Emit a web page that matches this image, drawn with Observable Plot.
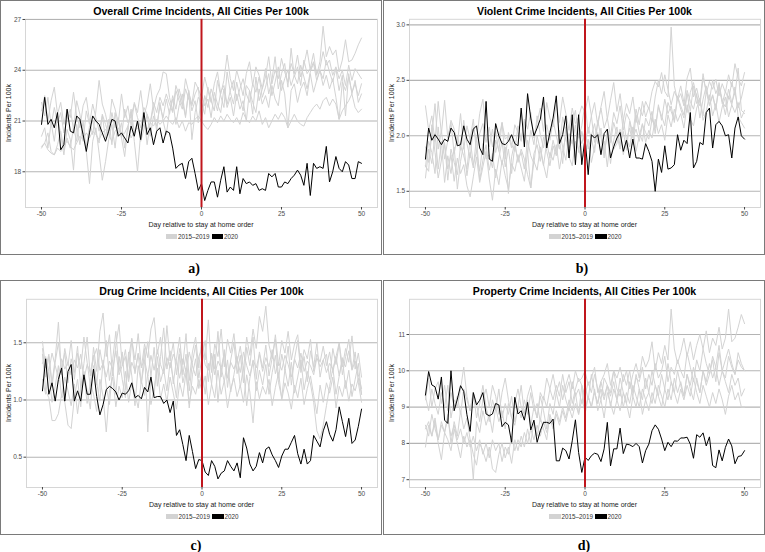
<!DOCTYPE html>
<html>
<head>
<meta charset="utf-8">
<script src="https://cdn.jsdelivr.net/npm/d3@7"></script>
<script src="https://cdn.jsdelivr.net/npm/@observablehq/plot@0.6"></script>
<style>
  html, body { margin: 0; padding: 0; background: #fff; }
  body { width: 765px; height: 552px; position: relative; overflow: hidden; font-family: "Liberation Sans", Arial, sans-serif; }
  .panel { position: absolute; width: 382px; height: 255px; }
  .border { position: absolute; left: 0; top: 0; width: 382px; height: 255px; border: 1px solid #7a7a7a; box-sizing: border-box; pointer-events: none; }
  .panel svg { position: absolute; left: 0; top: 0; }
  .title { position: absolute; top: 4.5px; text-align: center; font-weight: bold; font-size: 10.6px; line-height: 12px; color: #000; white-space: nowrap; }
  .xlab { position: absolute; top: 221px; text-align: center; font-size: 7px; line-height: 8px; color: #1a1a1a; white-space: nowrap; }
  .ylab { position: absolute; left: -85px; top: 109px; width: 188px; height: 8px; text-align: center; font-size: 7px; line-height: 8px; color: #1a1a1a; transform: rotate(-90deg); white-space: nowrap; }
  .sw { position: absolute; top: 234.2px; height: 5px; }
  .lt { position: absolute; top: 233px; font-size: 6.3px; line-height: 7.5px; color: #333; white-space: nowrap; }
  .tag { position: absolute; width: 40px; text-align: center; font-family: "Liberation Serif", "DejaVu Serif", serif; font-weight: bold; font-size: 14px; line-height: 16px; color: #000; }
</style>
</head>
<body>
<script>
// ---------- shared axis values ----------
const days = d3.range(-50, 51);          // day relative to stay-at-home order
const xTicks = [-50, -25, 0, 25, 50];
const legendLabels = ["2015\u20132019", "2020"];
const panelTitles = [
  "Overall Crime Incidents, All Cities Per 100k",
  "Violent Crime Incidents, All Cities Per 100k",
  "Drug Crime Incidents, All Cities Per 100k",
  "Property Crime Incidents, All Cities Per 100k"
];
const panelTags = ["a)", "b)", "c)", "d)"];
const xTitle = "Day relative to stay at home order";
const yTitle = "Incidents Per 100k";

// ---------- a) overall ----------
const overallTicks = [18, 21, 24, 27];
const overall2020 = [20.8,22.4,20.8,21.1,20.6,21.5,19.3,19.6,21.7,20.4, 20.3,21.3,21.1,20.2,19.2,20.3,21.3,21.0,20.8,20.3, 19.8,20.4,21.1,21.0,20.1,20.3,20.0,19.7,20.7,20.1, 21.0,19.9,21.5,20.2,20.6,19.6,20.4,20.6,19.7,20.4, 20.3,19.4,18.2,18.4,18.5,17.6,18.6,18.8,17.9,16.9, 17.3,16.3,16.9,17.4,17.4,16.5,17.5,18.3,16.8,17.1, 16.9,18.3,16.7,17.6,17.3,17.4,17.2,17.3,16.9,17.0, 16.9,17.9,17.7,17.9,17.1,17.1,17.4,17.3,17.6,17.8, 18.1,17.8,17.2,18.5,16.6,18.5,18.2,18.3,18.2,19.5, 17.4,18.0,18.9,18.2,18.0,18.6,18.4,17.6,17.6,18.6,18.5];
const overallPast1 = [20.1,20.6,19.4,20.9,19.8,21.3,20.2,19.0,20.5,19.9, 18.1,20.8,19.6,21.0,19.2,17.3,19.8,20.6,19.1,17.5, 18.6,19.9,20.8,19.4,21.2,20.0,18.9,20.7,21.5,19.8, 18.0,20.3,21.4,19.6,20.9,21.8,20.4,22.1,21.0,20.2, 21.6,22.3,20.8,21.9,22.6,21.2,22.8,19.9,21.5,22.4, 22.1,21.4,23.0,22.2,21.6,23.4,22.5,21.8,23.9,22.7, 22.0,23.3,22.4,21.6,23.1,22.8,21.4,23.6,22.2,22.9, 24.1,22.6,23.4,24.8,22.9,23.8,24.4,23.0,25.3,23.6, 24.2,23.1,24.6,23.8,24.1,25.0,23.7,24.5,26.6,24.8, 25.4,24.9,25.2,23.9,24.6,25.8,24.5,24.6,25.0,25.5,25.9];
const overallPast2 = [21.6,22.5,21.0,22.2,23.0,21.4,22.1,20.8,21.7,21.2, 22.7,21.3,20.6,21.9,22.4,21.0,20.2,21.6,23.4,22.0, 21.4,20.5,22.3,21.7,20.9,22.6,21.2,21.9,20.7,22.1, 21.5,22.8,21.3,22.0,23.2,21.7,22.5,22.9,23.9,23.8, 22.4,21.6,23.1,22.5,21.9,23.5,22.7,22.0,23.3,22.9, 22.4,23.6,22.8,22.1,23.2,23.9,22.6,23.4,24.9,23.5, 22.8,24.0,23.3,22.5,23.8,24.5,23.1,24.2,23.7,22.9, 23.6,24.8,23.2,24.0,23.5,24.7,23.9,23.3,24.4,23.8, 24.9,23.6,24.3,25.2,24.0,24.5,23.8,24.1,25.1,24.3, 24.6,23.7,24.2,23.5,24.0,23.1,24.3,23.4,24.1,23.8,23.5];
const overallPast3 = [19.5,19.7,20.3,19.2,19.0,19.6,20.4,19.3,20.0,19.4, 20.6,19.8,21.2,20.1,19.5,20.7,21.0,20.3,19.7,21.4, 20.8,20.2,21.5,20.6,21.1,20.0,21.7,20.9,21.3,22.0, 21.2,20.6,21.8,21.4,20.9,22.1,21.5,22.4,21.9,22.6, 22.0,21.5,22.8,22.2,21.7,22.9,22.3,21.9,22.6,23.0, 21.0,22.5,21.8,22.9,22.3,21.6,22.7,23.1,22.0,22.8, 23.4,22.2,22.9,23.5,22.6,22.1,23.2,22.7,23.6,22.4, 23.0,23.8,22.5,23.3,24.2,22.8,23.5,24.0,23.1,23.7, 23.2,24.3,23.6,22.9,23.9,24.4,23.4,24.0,23.5,24.6, 23.9,23.3,24.1,22.8,23.7,21.3,23.8,22.6,23.4,22.1,22.6];
const overallPast4 = [19.4,19.7,19.3,19.1,19.0,19.4,19.2,19.6,19.8,19.5, 19.3,19.7,20.1,19.9,20.3,20.0,20.4,20.2,19.9,20.3, 20.5,20.2,19.8,20.4,20.6,20.1,20.3,20.7,20.0,20.4, 20.6,20.3,20.8,20.5,20.9,20.7,21.1,20.8,21.0,21.3, 21.0,20.8,21.2,20.6,21.0,20.4,20.9,20.8,21.1,21.3, 21.0,20.7,20.5,20.8,21.2,20.9,21.3,21.0,21.4,21.1, 20.9,21.2,20.8,21.5,21.1,20.9,21.3,21.0,21.6,20.8, 21.2,20.6,21.0,21.4,21.1,21.5,21.2,20.6,21.0,21.4, 21.0,20.8,20.7,21.2,21.5,21.8,22.0,21.7,22.2,22.4, 21.9,22.3,22.0,21.1,21.6,21.9,22.2,22.6,21.8,21.5,21.7];
const overallPast5 = [22.1,21.3,22.4,20.7,21.8,20.9,21.5,20.3,21.1,21.7, 20.5,22.2,21.4,19.8,21.6,20.8,22.0,21.2,20.4,21.3, 20.0,21.1,19.6,21.5,20.2,20.9,19.4,20.6,21.7,20.3, 21.0,19.8,20.5,21.4,20.1,21.3,20.7,21.9,21.2,22.3, 21.4,22.5,21.7,22.9,22.1,21.3,22.8,21.6,22.2,20.9, 22.6,21.9,22.3,21.2,22.7,22.0,21.5,22.9,21.8,22.4, 21.3,22.6,21.7,22.2,21.0,22.8,22.1,21.5,22.9,22.0, 22.5,21.8,23.1,22.3,21.9,23.4,22.6,20.6,22.8,23.2, 22.1,22.9,23.3,22.5,23.8,22.7,23.4,24.0,23.1,23.7, 22.9,23.5,22.4,21.1,23.3,22.8,23.6,22.7,23.2,22.5,23.2];

// ---------- b) violent ----------
const violentTicks = [1.5, 2.0, 2.5, 3.0];
const violent2020 = [1.79,2.07,1.96,2.01,1.97,1.92,1.97,1.95,2.07,2.03, 1.91,1.92,2.09,1.97,1.92,2.06,2.09,1.89,1.83,2.31, 1.79,1.77,2.11,2.00,1.93,1.92,1.95,2.01,1.93,1.91, 2.25,1.90,2.38,2.16,2.00,2.07,2.15,2.35,1.89,2.03, 2.16,2.36,1.93,2.01,2.18,1.80,2.19,1.74,2.19,1.74, 1.98,1.65,2.01,1.98,2.01,1.83,2.02,2.06,1.80,1.90, 1.98,2.03,1.86,1.96,1.80,1.97,1.80,1.80,1.79,1.93, 1.86,1.77,1.50,1.79,1.67,1.91,1.70,1.71,1.74,2.01, 1.87,1.96,1.93,2.21,1.71,1.77,1.94,1.92,2.21,2.25, 1.89,2.10,2.13,2.09,2.00,2.01,1.80,2.07,2.17,2.00,1.97];
const violentPast1 = [2.27,2.05,2.18,1.95,2.31,2.02,2.32,1.98,2.14,2.06, 1.92,2.20,1.88,2.09,1.97,2.15,1.85,2.02,2.11,1.94, 2.08,1.90,2.04,1.86,2.12,1.97,2.00,1.89,2.10,2.03, 1.95,2.15,2.06,2.21,1.98,2.12,2.25,2.04,2.30,2.16, 2.08,2.28,2.12,2.35,2.20,2.05,2.25,2.11,2.17,2.27, 2.21,2.36,2.18,2.30,2.09,2.26,2.40,2.15,2.32,2.48, 2.22,2.38,2.14,2.29,2.20,2.35,2.12,2.26,2.18,2.31, 2.24,2.40,2.49,2.44,2.57,2.40,2.35,2.98,2.45,2.32, 2.38,2.27,2.52,2.61,2.35,2.43,2.30,2.56,2.38,2.49, 2.42,2.51,2.36,2.47,2.39,2.55,2.44,2.65,2.52,2.45,2.57];
const violentPast2 = [1.62,1.88,1.75,2.02,1.70,1.95,1.58,1.82,1.66,1.90, 1.52,1.77,1.93,1.64,1.85,1.71,1.99,1.60,1.78,1.92, 1.69,1.84,1.62,1.80,1.95,1.72,1.88,1.66,1.91,1.78, 1.85,1.70,1.96,1.82,1.75,2.00,1.87,1.73,1.94,1.80, 1.96,1.84,2.05,1.90,1.78,2.02,1.93,2.10,1.85,2.04, 1.92,2.08,1.97,1.85,2.14,1.99,1.80,2.06,1.94,2.12, 2.01,1.88,2.15,1.96,2.07,1.92,2.19,2.03,1.95,2.16, 2.09,2.22,2.02,2.28,2.14,2.33,2.20,2.27,2.12,2.35, 2.24,2.16,2.38,2.22,2.45,2.29,2.34,2.18,2.40,2.27, 2.36,2.23,2.48,2.31,2.26,2.42,2.30,2.39,2.25,2.34,2.47];
const violentPast3 = [1.73,1.68,2.10,1.85,1.62,1.78,1.92,1.70,1.83,1.59, 1.80,1.66,1.74,1.55,1.45,1.63,1.81,1.58,1.72,1.86, 1.61,1.42,1.70,1.56,1.78,1.64,1.52,1.75,1.68,1.83, 1.71,1.59,1.86,1.53,1.77,1.69,1.90,1.74,1.62,1.85, 1.78,1.92,1.70,1.87,1.99,1.81,1.73,1.95,1.88,1.79, 1.85,1.97,1.76,1.90,2.03,1.84,1.95,1.72,1.99,1.88, 1.93,2.06,1.83,1.97,1.90,2.08,1.86,2.00,2.11,1.94, 2.05,1.98,2.15,2.02,2.10,1.96,2.19,2.08,2.24,2.13, 2.20,2.07,2.28,2.15,2.09,2.25,2.33,2.14,2.22,2.37, 2.18,2.29,2.12,2.26,2.35,2.17,2.28,2.21,2.30,2.16,2.23];
const violentPast4 = [1.90,1.76,2.01,2.29,1.88,2.05,1.79,1.96,2.12,1.84, 2.00,1.87,2.14,1.93,1.80,2.08,1.95,2.20,2.33,2.02, 1.90,2.06,1.85,1.98,2.12,1.79,2.03,1.92,1.86,2.09, 1.97,2.13,1.84,2.05,1.92,2.18,2.01,1.89,2.10,1.96, 2.14,2.00,1.88,2.17,2.04,1.93,2.11,2.23,1.98,2.09, 2.30,2.02,2.18,1.94,2.12,2.25,2.07,2.16,1.99,2.21, 2.11,2.27,2.05,2.20,2.14,2.02,2.24,2.10,2.31,2.17, 2.26,2.13,2.35,2.50,2.38,2.55,2.42,2.28,2.40,2.33, 2.45,2.30,2.21,2.39,2.48,2.35,2.27,2.52,2.41,2.32, 2.50,2.38,2.46,2.29,2.40,2.33,2.48,2.37,2.61,2.23,2.20];
const violentPast5 = [1.72,1.95,1.85,1.66,2.08,1.78,1.94,1.60,1.88,1.76, 1.65,1.91,1.82,1.70,1.97,1.74,1.86,1.68,1.93,1.79, 1.83,1.71,1.96,1.87,1.74,1.90,1.48,1.81,1.95,1.76, 1.88,1.79,1.65,1.53,1.84,1.92,1.77,1.99,1.86,1.73, 1.91,1.82,1.97,1.75,2.08,1.89,1.96,1.80,2.02,1.93, 2.05,1.88,2.00,2.11,1.93,2.07,1.84,2.02,1.75,1.96, 2.08,1.91,2.04,1.87,2.13,1.98,2.06,1.95,2.10,2.03, 1.97,2.15,2.07,2.26,2.18,2.09,2.30,2.22,2.14,2.36, 2.27,2.19,2.41,2.31,2.24,2.38,2.16,2.33,2.45,2.28, 2.37,2.25,2.43,2.32,2.19,2.36,2.28,2.44,2.17,2.12,2.07];

// ---------- c) drug ----------
const drugTicks = [0.5, 1.0, 1.5];
const drug2020 = [1.08,1.36,1.05,1.15,0.99,1.18,1.28,0.99,1.25,1.31, 0.99,1.08,0.99,1.22,1.05,1.05,1.27,1.03,0.87,0.96, 1.09,1.12,1.10,1.07,1.00,1.06,1.05,1.08,1.15,1.02, 1.04,1.01,1.11,1.07,1.20,1.02,1.03,1.03,0.97,1.00, 0.89,0.99,0.69,0.74,0.61,0.47,0.69,0.55,0.40,0.48, 0.47,0.37,0.34,0.47,0.42,0.31,0.36,0.38,0.47,0.42, 0.38,0.45,0.32,0.67,0.58,0.44,0.38,0.42,0.54,0.45, 0.57,0.59,0.52,0.47,0.41,0.51,0.57,0.57,0.63,0.69, 0.53,0.44,0.57,0.44,0.47,0.69,0.64,0.59,0.73,0.81, 0.70,0.64,0.74,0.94,0.81,0.68,0.84,0.62,0.65,0.77,0.92];
const drugPast1 = [1.51,1.28,1.40,1.15,1.36,1.68,1.22,1.45,1.30,1.52, 1.18,1.41,1.27,1.55,1.33,1.12,1.46,1.25,1.60,1.76, 1.38,1.57,1.21,1.48,1.66,1.30,1.44,1.19,1.53,1.35, 1.58,1.28,1.49,1.37,1.62,1.72,1.40,1.55,1.26,1.65, 1.34,1.50,1.22,1.45,1.31,1.58,1.17,1.42,1.55,1.28, 1.56,1.35,1.70,1.24,1.49,1.38,1.62,1.29,1.53,1.41, 1.58,1.33,1.47,1.26,1.55,1.39,1.62,1.45,1.73,1.60, 1.82,1.48,1.36,1.57,1.30,1.52,1.41,1.60,1.35,1.49, 1.57,1.28,1.44,1.36,1.53,1.25,1.40,1.33,1.47,1.30, 1.42,1.24,1.38,1.50,1.29,1.45,1.33,1.56,1.27,1.41,1.20];
const drugPast2 = [1.40,1.08,1.02,0.82,0.82,0.88,1.05,0.98,0.78,0.75, 1.02,1.18,0.94,1.25,1.08,0.92,1.30,1.15,0.99,1.35, 1.12,0.96,1.28,1.05,1.38,1.18,1.02,1.42,1.21,0.95, 1.30,1.14,1.45,0.72,1.20,1.04,1.38,1.16,1.27,1.08, 1.33,1.19,1.02,1.40,1.15,1.28,0.93,1.22,1.36,1.10, 1.25,1.05,1.32,1.14,1.40,0.98,1.28,1.16,1.35,1.07, 1.22,1.38,1.11,1.29,0.95,1.19,1.34,1.08,1.26,1.13, 1.31,1.05,1.24,1.39,1.15,1.02,1.27,1.12,1.33,1.06, 1.20,1.35,1.09,1.25,1.14,0.98,0.73,0.66,0.78,0.95, 1.12,1.28,1.05,1.21,1.37,1.10,1.26,1.03,1.18,1.32,1.05];
const drugPast3 = [1.32,1.38,1.25,1.41,1.30,1.19,1.36,1.27,1.33,1.22, 1.35,1.28,1.40,1.18,1.31,1.24,1.37,1.45,1.26,1.32, 1.20,1.34,1.27,1.43,1.22,1.30,1.38,1.16,1.33,1.25, 1.41,1.29,1.35,1.21,1.39,1.26,1.44,1.31,1.23,1.37, 1.28,1.40,1.33,1.19,1.36,1.25,1.42,1.30,1.21,1.38, 1.45,1.31,1.26,1.39,1.22,1.34,1.28,1.41,1.19,1.33, 1.27,1.36,1.24,1.42,1.30,1.21,1.35,1.28,1.40,1.25, 1.37,1.29,1.44,1.23,1.33,1.26,1.39,1.31,1.20,1.36, 1.28,1.41,1.25,1.34,1.30,1.22,1.37,1.29,1.35,1.24, 1.32,1.27,1.38,1.21,1.35,1.29,1.43,1.26,1.34,1.22,1.10];
const drugPast4 = [1.18,1.05,1.25,0.98,1.12,1.30,1.02,1.20,1.08,0.95, 1.14,0.88,1.10,1.22,0.97,1.15,1.05,0.90,1.18,1.03, 0.72,1.08,1.20,0.94,1.12,1.02,1.25,0.98,1.15,1.06, 0.93,1.17,1.04,1.22,0.96,1.10,1.28,1.01,1.14,0.98, 1.20,1.06,0.92,1.15,1.03,1.24,0.97,1.12,1.05,1.18, 1.08,1.21,0.96,1.14,1.02,1.26,1.05,1.17,0.93,1.10, 1.19,1.03,1.13,0.98,1.22,1.07,0.80,1.16,1.01,1.12, 1.05,1.18,0.95,1.11,1.24,1.00,1.15,1.06,0.92,1.13, 1.02,1.19,0.96,1.10,1.21,1.04,0.88,1.13,0.98,1.15, 1.06,1.20,0.93,1.12,1.03,1.17,0.99,1.14,1.08,1.19,1.05];
const drugPast5 = [1.45,1.20,1.38,1.12,1.33,1.50,1.26,1.41,1.15,1.36, 1.24,1.47,1.10,1.32,1.55,1.21,1.39,1.13,1.44,1.28, 1.52,1.17,1.35,1.60,1.25,1.42,1.09,1.37,1.54,1.23, 1.40,1.15,1.33,1.51,1.20,1.46,1.12,1.38,1.63,1.27, 1.43,1.14,1.36,1.55,1.22,1.40,1.08,1.33,1.48,1.19, 1.38,1.52,1.16,1.41,1.27,1.60,1.20,1.44,1.11,1.35, 1.50,1.23,1.39,1.15,1.46,1.30,1.55,1.18,1.42,1.28, 1.48,1.21,1.37,1.53,1.19,1.40,1.26,1.47,1.13,1.36, 1.52,1.24,1.38,1.16,1.43,1.29,1.50,1.20,1.35,1.40, 1.18,1.45,1.31,1.49,1.22,1.38,1.53,1.27,1.42,1.15,0.98];

// ---------- d) property ----------
const propertyTicks = [7, 8, 9, 10, 11];
const property2020 = [9.33,9.98,9.61,9.56,9.22,9.83,8.64,8.55,10.0,8.90, 9.22,9.59,9.43,8.79,8.33,9.40,9.06,9.19,9.40,8.81, 8.76,8.81,9.10,9.06,8.46,8.58,8.51,8.03,9.27,8.81, 8.90,8.64,9.13,8.37,8.64,8.03,8.35,8.58,8.58,8.55, 8.67,7.52,7.52,7.87,7.80,7.57,8.07,8.65,7.75,7.20, 7.62,7.53,7.66,7.73,7.70,7.50,7.85,8.58,7.38,7.85, 7.85,8.42,7.72,7.98,7.96,7.91,8.00,7.91,7.46,7.80, 7.98,8.35,8.51,8.39,8.12,7.80,8.03,7.91,8.07,8.06, 8.15,8.15,8.17,7.98,7.59,8.24,8.17,8.29,7.93,8.18, 7.39,7.33,7.82,7.52,7.89,8.12,7.93,7.44,7.64,7.66,7.80];
const propertyPast1 = [9.3,8.9,9.5,9.1,8.8,9.4,9.0,9.6,8.7,9.2, 9.0,9.5,10.1,9.3,8.9,9.4,9.1,8.6,9.2,9.5, 9.0,9.6,9.3,8.8,9.4,9.8,9.2,8.7,9.1,9.5, 9.0,8.8,9.3,9.6,9.1,8.7,9.4,9.2,9.8,9.5, 9.9,9.4,9.7,9.2,9.6,9.9,9.5,10.0,9.7,9.8, 10.0,9.6,9.8,10.1,9.4,9.7,9.9,10.2,9.6,10.0, 9.8,10.1,9.7,10.0,9.5,9.9,10.2,9.8,10.4,10.1, 10.3,10.8,10.0,10.5,10.2,10.7,10.3,11.7,10.6,10.2, 10.5,10.9,10.4,10.8,10.3,10.7,11.0,10.6,11.1,10.5, 10.9,10.7,11.2,10.6,10.9,11.7,10.8,10.9,11.2,11.55,11.3];
const propertyPast2 = [8.4,8.6,8.2,8.7,8.1,8.5,8.3,8.8,8.0,8.6, 8.2,8.9,8.4,8.7,8.1,7.0,8.6,8.3,8.9,8.5, 8.8,8.3,9.0,8.6,8.9,8.4,9.1,8.7,8.5,9.0, 8.7,9.2,8.8,9.4,8.9,9.1,8.6,9.3,9.0,9.5, 9.2,9.6,9.3,9.9,9.4,9.7,9.1,9.5,9.8,9.6, 9.3,9.7,9.4,9.9,9.5,9.2,9.8,9.6,9.4,10.0, 9.5,9.3,9.9,9.6,10.0,9.4,9.8,9.7,10.1,9.5, 9.9,9.6,10.2,9.8,10.0,10.4,9.7,10.1,9.9,10.3, 10.0,9.8,10.5,10.1,9.7,10.3,10.0,10.6,10.2,9.9, 10.4,10.1,10.7,10.0,10.3,10.6,10.2,9.9,10.3,10.1,10.0];
const propertyPast3 = [7.9,8.5,8.2,8.6,8.0,7.55,8.3,8.1,7.8,8.4, 8.0,7.6,8.2,7.9,8.1,7.7,7.4,8.0,7.8,7.5, 7.9,7.3,7.2,7.7,8.0,7.6,7.9,7.45,8.1,7.8, 8.2,7.9,8.4,8.0,8.6,8.2,8.7,8.4,8.1,8.8, 8.5,8.9,8.6,9.0,8.7,9.2,8.9,9.4,8.8,9.6, 8.8,9.3,9.0,9.5,8.9,9.2,8.7,9.4,9.1,8.8, 9.2,8.9,9.4,9.1,8.7,9.3,9.0,9.5,8.8,9.2, 8.9,9.4,9.1,9.6,9.3,9.0,9.5,9.2,9.8,9.4, 9.7,9.3,9.9,9.5,9.2,9.8,9.4,10.0,9.6,9.9, 10.3,9.7,10.5,10.0,9.8,10.4,10.1,9.9,10.5,10.2,10.0];
const propertyPast4 = [9.2,9.8,9.0,9.5,9.7,9.1,9.6,8.9,9.4,9.0, 9.3,8.8,9.5,9.2,8.9,9.4,8.7,9.1,9.6,9.0, 8.6,9.2,8.9,9.5,8.7,9.1,8.8,9.3,8.6,9.0, 9.6,8.8,9.2,8.5,9.0,8.7,9.3,8.9,8.4,9.1, 8.8,9.4,9.0,9.6,9.2,8.9,9.7,9.3,9.5,9.1, 9.6,9.2,9.9,9.4,9.1,9.7,9.3,9.6,9.0,9.5, 9.2,9.8,9.4,9.1,9.7,9.3,9.9,9.5,9.2,9.8, 9.4,10.0,9.6,9.3,9.9,9.5,10.2,9.7,9.4,10.0, 9.6,9.3,9.9,9.6,10.1,9.7,9.4,10.0,9.7,10.2, 9.8,10.1,9.6,10.0,9.7,9.4,9.9,9.6,9.8,9.3,9.5];
const propertyPast5 = [8.5,8.2,8.8,8.4,8.1,8.6,8.3,8.7,8.2,8.5, 8.1,8.4,8.0,8.3,7.9,8.2,7.8,8.1,7.7,8.0, 7.6,8.1,7.8,8.0,7.5,7.9,7.7,8.2,7.8,8.1, 7.9,8.3,8.0,8.4,8.1,8.5,8.2,8.6,8.3,8.7, 8.4,8.8,8.5,8.9,8.6,9.0,8.7,9.1,8.8,9.2, 8.9,9.3,9.0,9.4,9.1,9.5,9.2,9.6,9.3,9.7, 9.2,9.5,9.0,9.4,9.1,9.6,9.3,9.0,9.5,9.2, 9.4,9.1,9.6,9.3,9.0,9.5,9.2,9.7,9.4,9.1, 9.5,9.2,9.6,9.3,9.8,9.4,9.1,9.6,9.3,9.0, 9.4,9.1,9.5,9.2,8.8,9.3,9.6,9.2,9.4,9.0,9.0];

// ---------- panel configuration (layout only) ----------
const panels = [
  {left: 0,   top: 0,   ml: 25, domain: [15.89, 27.01], ticks: overallTicks,  fmt: d => String(d),
   current: overall2020,  past: [overallPast1, overallPast2, overallPast3, overallPast4, overallPast5]},
  {left: 383, top: 0,   ml: 26, domain: [1.354, 3.05],  ticks: violentTicks,  fmt: d3.format(".1f"),
   current: violent2020,  past: [violentPast1, violentPast2, violentPast3, violentPast4, violentPast5]},
  {left: 0,   top: 280, ml: 26, domain: [0.235, 1.88],  ticks: drugTicks,     fmt: d3.format(".1f"),
   current: drug2020,     past: [drugPast1, drugPast2, drugPast3, drugPast4, drugPast5]},
  {left: 383, top: 280, ml: 26, domain: [6.785, 11.97], ticks: propertyTicks, fmt: d => String(d),
   current: property2020, past: [propertyPast1, propertyPast2, propertyPast3, propertyPast4, propertyPast5]}
];
const tagPos = [[174, 261], [562, 261], [176, 538], [564, 538]];

const W = 382, H = 222, frameRight = 377, frameTop = 18.8, frameBottom = 207;

panels.forEach((p, i) => {
  const div = document.createElement("div");
  div.className = "panel";
  div.style.left = p.left + "px";
  div.style.top = p.top + "px";
  document.body.appendChild(div);

  const pastRows = [];
  p.past.forEach((arr, k) => arr.forEach((v, j) => pastRows.push({day: days[j], value: v, series: "past" + k})));
  const curRows = p.current.map((v, j) => ({day: days[j], value: v}));

  const svg = Plot.plot({
    width: W, height: H,
    marginLeft: p.ml, marginRight: W - frameRight, marginTop: frameTop, marginBottom: H - frameBottom,
    x: {domain: [-55, 55]},
    y: {domain: p.domain},
    style: {fontFamily: "'Liberation Sans', Arial, sans-serif", fontSize: "6.5px", color: "#4d4d4d", background: "transparent", overflow: "visible"},
    marks: [
      Plot.frame({stroke: "#d6d6d6", strokeWidth: 1}),
      Plot.gridY(p.ticks, {stroke: "#b4b4b4", strokeOpacity: 1, strokeWidth: 1.1}),
      Plot.line(pastRows, {x: "day", y: "value", z: "series", stroke: "#d3d3d3", strokeWidth: 1}),
      Plot.line(curRows, {x: "day", y: "value", stroke: "#000", strokeWidth: 1}),
      Plot.ruleX([0], {stroke: "#c0161d", strokeWidth: 2}),
      Plot.axisX(xTicks, {tickSize: 2.5, tickPadding: 1, tickFormat: d => String(d), label: null, stroke: "#444", fill: "#4d4d4d"}),
      Plot.axisY(p.ticks, {tickSize: 2.5, tickPadding: 1.8, tickFormat: p.fmt, label: null, stroke: "#444", fill: "#4d4d4d"})
    ]
  });
  div.appendChild(svg);

  const fw = frameRight - p.ml, fc = p.ml + fw / 2;

  const t = document.createElement("div");
  t.className = "title"; t.textContent = panelTitles[i];
  t.style.left = (fc - 150) + "px"; t.style.width = "300px";
  div.appendChild(t);

  const xl = document.createElement("div");
  xl.className = "xlab"; xl.textContent = xTitle;
  xl.style.left = (fc - 100) + "px"; xl.style.width = "200px";
  div.appendChild(xl);

  const yl = document.createElement("div");
  yl.className = "ylab"; yl.textContent = yTitle;
  div.appendChild(yl);

  const base = fc - 35.5;
  const items = [
    {cls: "sw", left: base, width: 11.6, bg: "#d3d3d3"},
    {cls: "lt", left: base + 12.6, text: legendLabels[0]},
    {cls: "sw", left: base + 46.3, width: 11.3, bg: "#000"},
    {cls: "lt", left: base + 58.6, text: legendLabels[1]}
  ];
  items.forEach(it => {
    const e = document.createElement("div");
    e.className = it.cls;
    e.style.left = it.left + "px";
    if (it.width) { e.style.width = it.width + "px"; e.style.background = it.bg; }
    if (it.text) e.textContent = it.text;
    div.appendChild(e);
  });

  const b = document.createElement("div");
  b.className = "border";
  div.appendChild(b);

  const tag = document.createElement("div");
  tag.className = "tag"; tag.textContent = panelTags[i];
  tag.style.left = tagPos[i][0] + "px"; tag.style.top = tagPos[i][1] + "px";
  document.body.appendChild(tag);
});
</script>
</body>
</html>
